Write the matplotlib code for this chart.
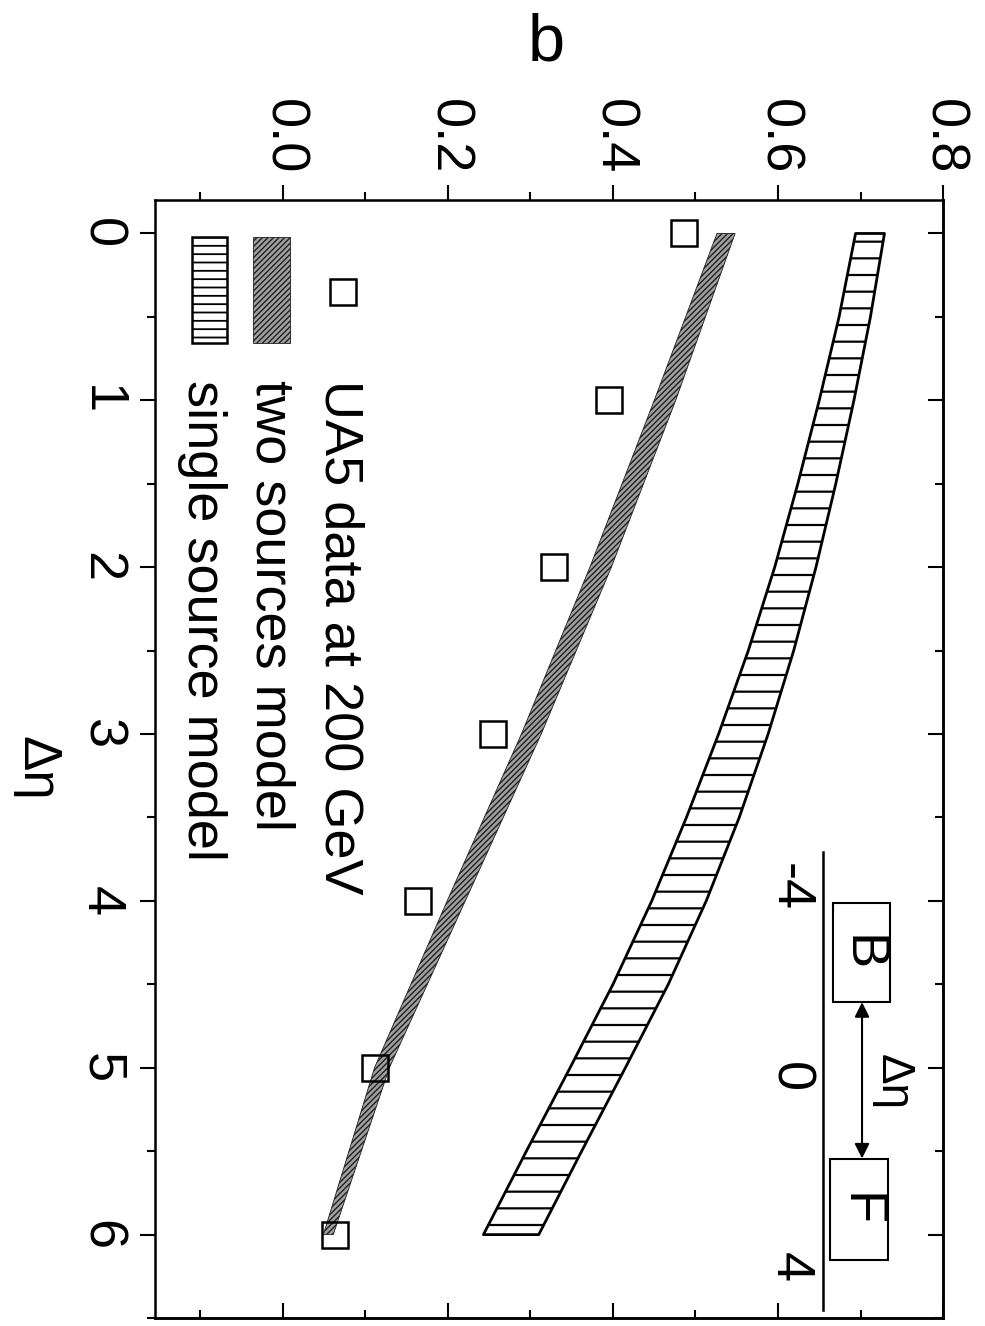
import matplotlib
matplotlib.use("Agg")
import matplotlib.pyplot as plt
from matplotlib.patches import Rectangle
from matplotlib.ticker import MultipleLocator

plt.rcParams["font.family"] = ["Liberation Sans", "DejaVu Sans"]
plt.rcParams["hatch.linewidth"] = 1.6

delta_eta = [0, 1, 2, 3, 4, 5, 6]
ua5_b = [0.486, 0.395, 0.328, 0.255, 0.164, 0.111, 0.063]

two_eta = [0, 1, 2, 3, 4, 5, 6]
two_low = [0.526, 0.450, 0.372, 0.289, 0.199, 0.111, 0.049]
two_high = [0.548, 0.476, 0.398, 0.313, 0.221, 0.129, 0.061]

single_eta = [0, 0.5, 1, 1.5, 2, 2.5, 3, 3.5, 4, 4.5, 5, 5.5, 6]
single_low = [0.694, 0.674, 0.650, 0.624, 0.596, 0.564, 0.528, 0.489, 0.447,
              0.400, 0.348, 0.295, 0.243]
single_high = [0.729, 0.712, 0.692, 0.670, 0.646, 0.619, 0.588, 0.553, 0.513,
               0.467, 0.415, 0.362, 0.310]

legend_labels = ["UA5 data at 200 GeV", "two sources model", "single source model"]

fig = plt.figure(figsize=(9.85, 13.26), dpi=100)
ax = fig.add_axes([0.1574, 0.006, 0.8, 0.8431])

# the whole figure is turned 90 deg clockwise: b runs left->right, delta eta top->bottom
ax.fill_betweenx(single_eta, single_low, single_high, facecolor="white",
                 edgecolor="black", hatch="-", linewidth=2.0)
with plt.rc_context({"hatch.linewidth": 1.0}):
    ax.fill_betweenx(two_eta, two_low, two_high, facecolor="#a0a0a0",
                     edgecolor="#202020", hatch="//////", linewidth=0.6)
ax.plot(ua5_b, delta_eta, ls="none", marker="s", ms=19, mfc="none",
        mec="black", mew=1.8)

ax.set_xlim(-0.155, 0.80)
ax.set_ylim(6.5, -0.2)

ax.xaxis.set_major_locator(MultipleLocator(0.2))
ax.xaxis.set_minor_locator(MultipleLocator(0.1))
ax.yaxis.set_major_locator(MultipleLocator(1))
ax.yaxis.set_minor_locator(MultipleLocator(0.5))

ax.tick_params(axis="x", which="both", top=True, bottom=False, labeltop=True,
               labelbottom=False, direction="out", width=1.5)
ax.tick_params(axis="x", which="major", length=10.8, pad=8, labelsize=39,
               labelrotation=270)
ax.tick_params(axis="x", which="minor", length=6)
ax.tick_params(axis="y", which="both", left=True, right=False, labelleft=True,
               direction="out", width=1.5)
ax.tick_params(axis="y", which="major", length=10.8, pad=10, labelsize=39,
               labelrotation=270)
ax.tick_params(axis="y", which="minor", length=6)
plt.setp(ax.get_yticklabels(), va="center")

for sp in ax.spines.values():
    sp.set_linewidth(1.8)

# inward ticks on the opposite sides
sec_x = ax.secondary_xaxis("bottom")
sec_x.xaxis.set_major_locator(MultipleLocator(0.2))
sec_x.xaxis.set_minor_locator(MultipleLocator(0.1))
sec_x.tick_params(which="both", direction="in", labelbottom=False, width=1.5)
sec_x.tick_params(which="major", length=10.8)
sec_x.tick_params(which="minor", length=6)
sec_x.spines["bottom"].set_linewidth(1.8)

sec_y = ax.secondary_yaxis("right")
sec_y.yaxis.set_major_locator(MultipleLocator(1))
sec_y.yaxis.set_minor_locator(MultipleLocator(0.5))
sec_y.tick_params(which="both", direction="in", labelright=False, width=1.5)
sec_y.tick_params(which="major", length=10.8)
sec_y.tick_params(which="minor", length=6)
sec_y.spines["right"].set_linewidth(1.8)

ax.xaxis.set_label_position("top")
ax.set_xlabel("b", fontsize=48, va="center")
ax.xaxis.set_label_coords(0.496, 1.14)
ax.set_ylabel("Δη", fontsize=38, rotation=270, ha="center", va="center")
ax.yaxis.set_label_coords(-0.15, 0.492)

# hand-made legend (rotated)
ax.plot([0.2386], [0.9177], transform=ax.transAxes, ls="none", marker="s",
        ms=19, mfc="none", mec="black", mew=1.8, clip_on=False)
with plt.rc_context({"hatch.linewidth": 1.0}):
    ax.add_patch(Rectangle((0.1244, 0.8721), 0.0469, 0.0948, transform=ax.transAxes,
                           facecolor="#a0a0a0", edgecolor="#202020", hatch="//////",
                           linewidth=0.6))
with plt.rc_context({"hatch.linewidth": 1.3}):
    ax.add_patch(Rectangle((0.047, 0.8721), 0.0444, 0.0948, transform=ax.transAxes,
                           facecolor="white", edgecolor="black", hatch="--",
                           linewidth=1.8))
for xb, label in zip([0.2157, 0.1282, 0.0419], legend_labels):
    ax.text(xb, 0.839, label, transform=ax.transAxes, fontsize=39, rotation=270,
            rotation_mode="anchor", ha="left", va="baseline")

# small B <-> F sketch
ins = ax.inset_axes([0.8477, 0.0072, 0.1269, 0.4096])
ins.set_xlim(0, 100)
ins.set_ylim(4.9, -4.74)
ins.patch.set_visible(False)
for name, sp in ins.spines.items():
    sp.set_visible(name == "left")
ins.spines["left"].set_linewidth(1.8)
ins.set_xticks([])
ins.set_yticks([-4, 0, 4])
ins.set_yticklabels(["-4", "0", "4"])
ins.tick_params(axis="y", length=0, pad=6, labelsize=39, labelrotation=270)
plt.setp(ins.get_yticklabels(), va="center")

ins.add_patch(Rectangle((10, -3.66), 57, 2.08, fill=False, linewidth=1.5))
ins.add_patch(Rectangle((7, 1.73), 58, 2.12, fill=False, linewidth=1.5))
ins.text(38.5, -2.62, "B", fontsize=39, rotation=270, ha="center", va="center")
ins.text(36, 2.79, "F", fontsize=39, rotation=270, ha="center", va="center")
ins.annotate("", xy=(39, -1.58), xytext=(39, 1.71),
             arrowprops=dict(arrowstyle="<|-|>", lw=1.5, color="black",
                             mutation_scale=22, shrinkA=0, shrinkB=0))
ins.text(70, 0.1, "Δη", fontsize=33, rotation=270, ha="center", va="center")

fig.savefig("out.png", dpi=100)
